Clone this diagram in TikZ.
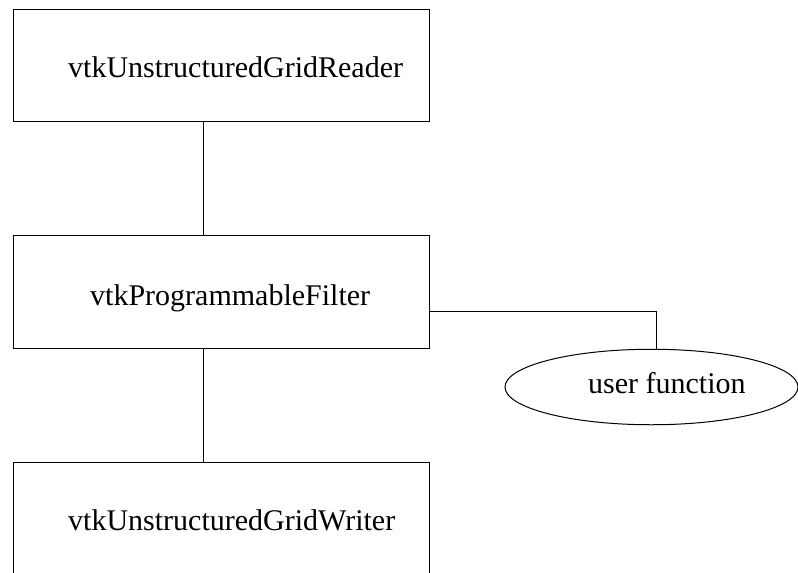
\documentclass[tikz,border=0pt]{standalone}
\usepackage{fontspec}
\setmainfont{Liberation Serif}
\usetikzlibrary{shapes.geometric}
\begin{document}
\begin{tikzpicture}[x=1pt,y=-1pt,
  box/.style={draw=black, line width=1pt, rectangle, minimum width=416pt, inner sep=0pt},
  oval/.style={draw=black, line width=1pt, ellipse, minimum width=293pt, minimum height=75.5pt, inner sep=0pt},
  lbl/.style={anchor=base west, inner sep=0pt, font=\fontsize{30}{36}\selectfont},
  wire/.style={draw=black, line width=1pt}]
\useasboundingbox (0,0) rectangle (798,573);
\node[box, minimum height=112.2pt] (top) at (221,65.6) {};
\node[box, minimum height=112.7pt] (mid) at (221,291.7) {};
\node[box, minimum height=120pt] (bot) at (221,522.7) {};
\node[oval] (uf) at (651.5,387) {};
\node[lbl] (topt) at (68,77) {vtkUnstructuredGridReader};
\node[lbl] (midt) at (90,305) {vtkProgrammableFilter};
\node[lbl] (bott) at (68,530) {vtkUnstructuredGridWriter};
\node[lbl] (uft) at (588,393) {user function};
\draw[wire] ([xshift=-18pt]top.south) -- ([xshift=-18pt]mid.north);
\draw[wire] ([xshift=-18pt]mid.south) -- ([xshift=-18pt]bot.north);
\draw[wire] ([yshift=-19.8pt]mid.east) -| ([xshift=4.8pt]uf.north);
\end{tikzpicture}
\end{document}
